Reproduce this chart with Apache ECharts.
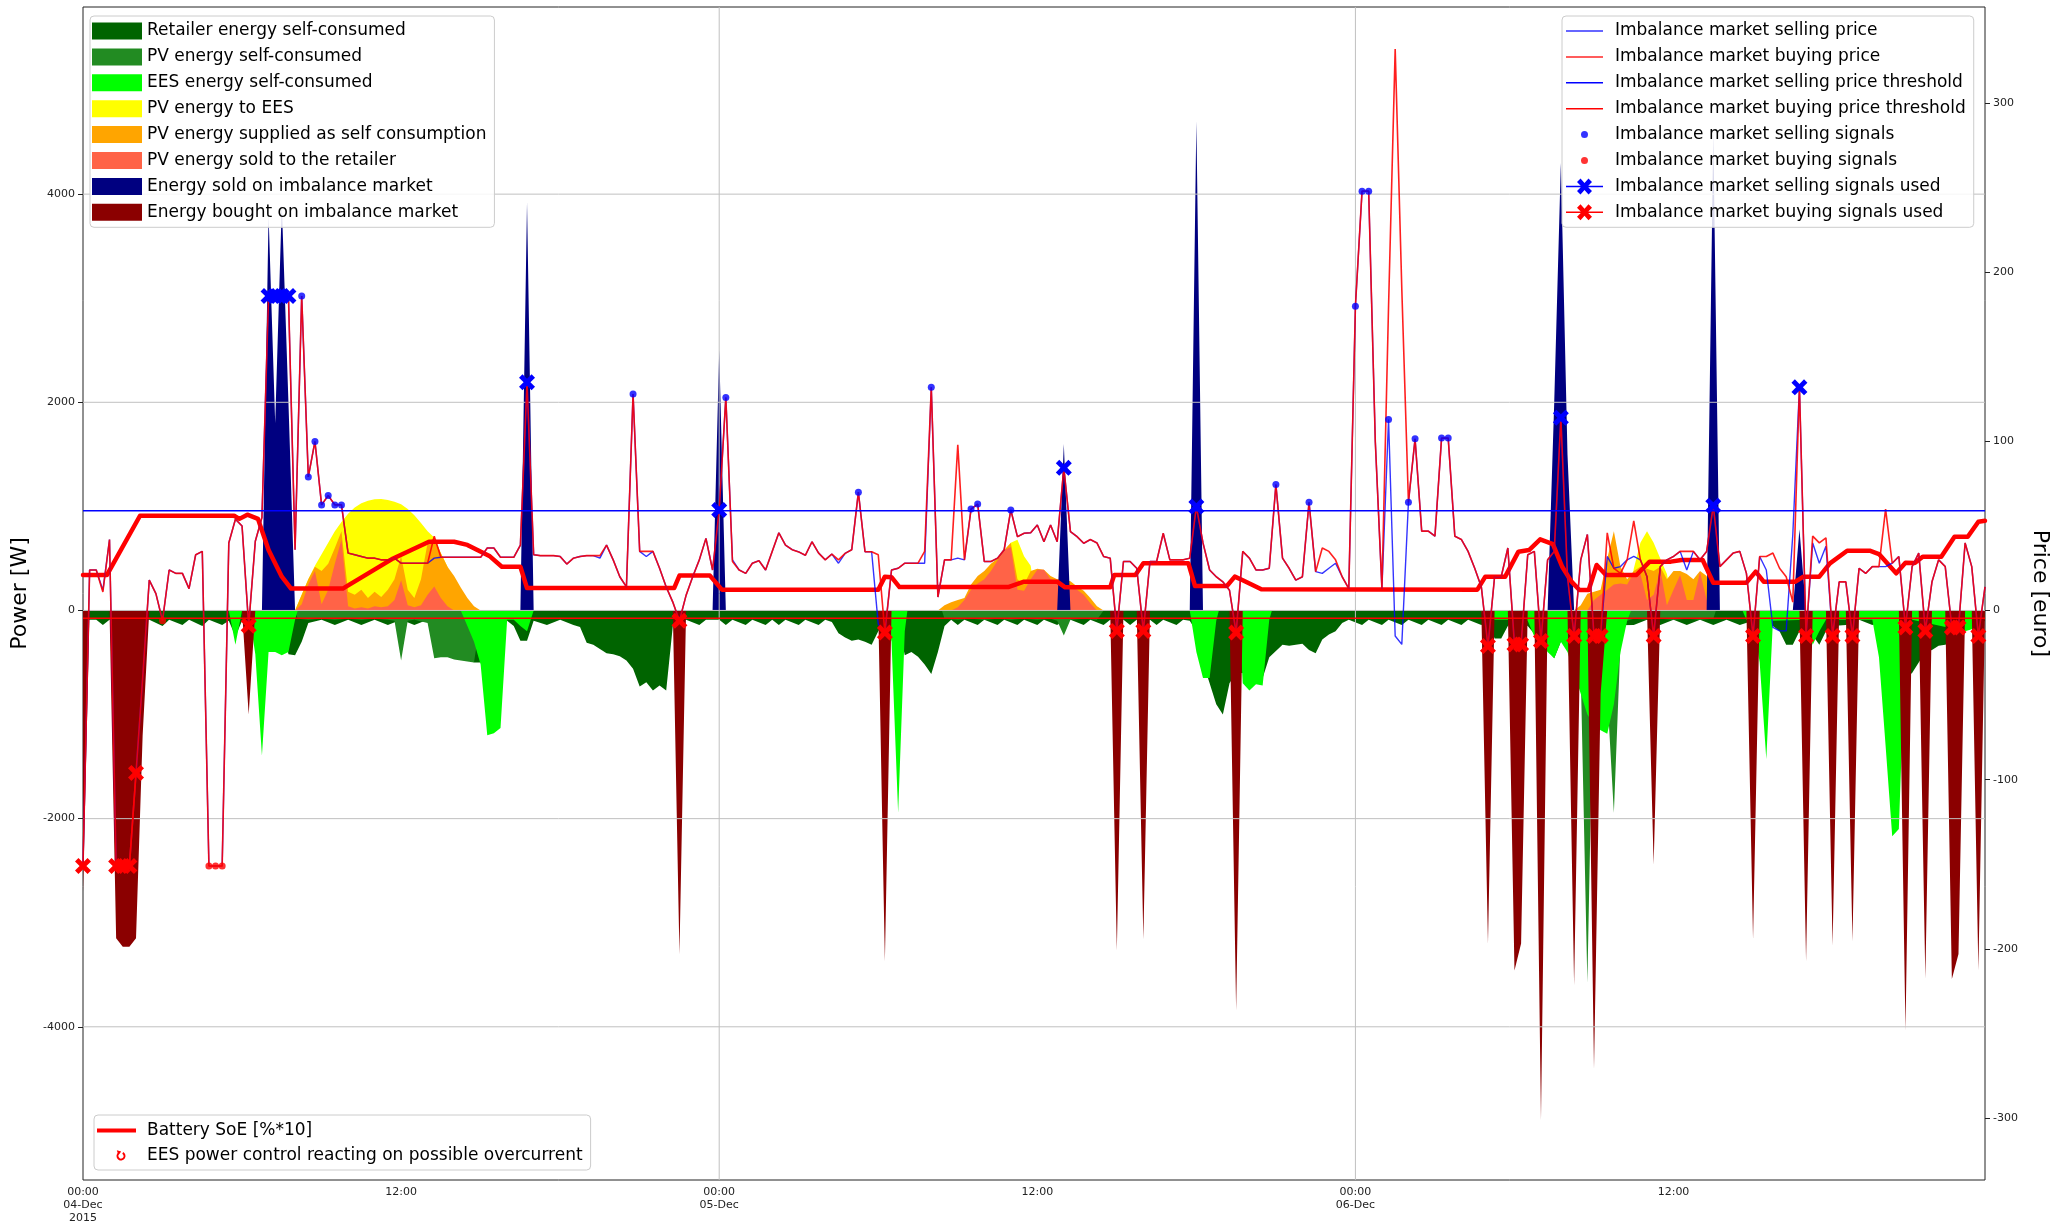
<!DOCTYPE html>
<html><head><meta charset="utf-8">
<script src="https://cdn.jsdelivr.net/npm/echarts@6/dist/echarts.min.js"></script>
<style>html,body{margin:0;padding:0;background:#fff}#c{width:2072px;height:1228px}</style>
</head><body><div id="c"></div>
<script>
// ---------------- DATA ----------------
const xTickHours = [0, 12, 24, 36, 48, 60];
const xTickLabels = ['00:00\n04-Dec\n2015', '12:00', '00:00\n05-Dec', '12:00', '00:00\n06-Dec', '12:00'];
const powerTicks = [-4000, -2000, 0, 2000, 4000];
const priceTicks = [-300, -200, -100, 0, 100, 200, 300];

// [hour, W]
const retailerSelf = [[0,-90],[0.5,-90],[0.75,-140],[1,-90],[2.5,-90],[3,-150],[3.25,-90],[3.75,-140],[4,-90],[4.5,-150],[4.75,-90],[5.25,-140],[5.5,-100],[5.75,-250],[6,-100],[6.5,-90],[7.5,-100],[7.75,-420],[8,-430],[8.25,-300],[8.5,-120],[9,-90],[9.5,-140],[10,-90],[10.5,-140],[11,-90],[11.5,-140],[12,-90],[12.5,-140],[13,-90],[13.5,-140],[14,-200],[14.5,-400],[14.75,-500],[15,-500],[15.25,-100],[16,-100],[16.25,-150],[16.5,-290],[16.75,-290],[17,-100],[17.5,-140],[18,-90],[18.5,-140],[18.75,-160],[19,-310],[19.25,-330],[19.5,-370],[19.75,-410],[20,-420],[20.25,-440],[20.5,-480],[20.75,-560],[21,-730],[21.25,-690],[21.5,-770],[21.75,-720],[22,-770],[22.25,-150],[22.5,-100],[22.75,-90],[23.25,-140],[23.5,-90],[24,-90],[24.25,-140],[24.5,-90],[25,-140],[25.25,-90],[25.75,-140],[26,-90],[26.25,-140],[26.5,-90],[27,-140],[27.25,-90],[27.75,-140],[28,-90],[28.25,-110],[28.5,-220],[28.75,-260],[29,-290],[29.25,-280],[29.5,-300],[29.75,-330],[30,-200],[30.25,-100],[30.75,-100],[31,-430],[31.25,-400],[31.5,-445],[31.75,-520],[32,-610],[32.25,-400],[32.5,-150],[32.75,-90],[33,-140],[33.25,-90],[33.75,-140],[34,-90],[34.5,-140],[34.75,-90],[35.25,-140],[35.5,-90],[36,-140],[36.25,-90],[36.75,-140],[37,-90],[37.25,-90],[37.75,-140],[38,-90],[38.5,-140],[38.75,-90],[39.25,-90],[39.5,-140],[39.75,-90],[40.25,-90],[40.5,-140],[40.75,-90],[41.25,-140],[41.5,-90],[41.75,-100],[42,-200],[42.25,-500],[42.5,-700],[42.75,-900],[43,-1000],[43.25,-700],[43.5,-600],[43.75,-600],[44,-600],[44.25,-600],[44.5,-650],[44.75,-450],[45,-390],[45.25,-330],[45.5,-340],[45.75,-330],[46,-320],[46.25,-380],[46.5,-410],[46.75,-280],[47,-230],[47.25,-200],[47.5,-120],[47.75,-90],[48.25,-140],[48.5,-90],[49,-140],[49.25,-90],[49.75,-140],[50,-90],[50.5,-140],[50.75,-90],[51.25,-140],[51.5,-90],[52,-140],[52.25,-90],[52.75,-140],[53,-100],[53.25,-270],[53.5,-270],[53.75,-150],[54,-100],[54.5,-150],[55,-300],[55.5,-460],[55.75,-300],[56,-150],[58.5,-140],[59,-90],[59.5,-140],[60,-90],[60.5,-140],[61,-90],[61.5,-140],[62,-90],[62.5,-140],[63,-100],[63.75,-150],[64,-200],[64.25,-330],[64.5,-330],[64.75,-200],[65,-150],[65.5,-330],[65.75,-200],[66,-150],[66.5,-140],[67,-90],[67.5,-140],[68,-100],[68.5,-400],[68.75,-650],[69,-600],[69.25,-500],[69.5,-400],[69.75,-380],[70,-340],[70.25,-330],[70.5,-300],[70.75,-250],[71,-150],[71.5,-140],[71.75,-100]];

const pvSelf = [[0,0],[8,0],[8.1,-80],[8.5,-90],[9,-80],[9.5,-90],[10,-80],[10.5,-90],[11,-80],[11.5,-90],[11.75,-100],[12,-480],[12.25,-100],[12.5,-90],[13,-120],[13.25,-460],[13.5,-450],[13.75,-450],[14,-470],[14.25,-480],[14.5,-490],[14.75,-500],[15,-80],[15.1,0],[32.4,0],[32.5,-80],[33,-90],[33.5,-80],[34,-90],[34.5,-80],[35,-90],[35.5,-80],[36,-90],[36.5,-80],[36.75,-100],[37,-240],[37.25,-90],[37.75,-80],[38.25,-90],[38.5,0],[54.4,0],[54.5,-80],[55,-90],[55.5,-80],[56,-90],[56.25,-200],[56.5,-600],[56.75,-3580],[57,-300],[57.25,-400],[57.5,-800],[57.75,-1945],[58,-300],[58.25,-100],[58.5,-80],[59,-90],[59.5,-80],[60,-90],[60.5,-80],[61,-90],[61.5,-80],[61.6,0],[71.75,0]];

const eesSelf = [[0,0],[5.5,0],[5.75,-330],[6,0],[6.25,0],[6.5,-420],[6.75,-1394],[7,-400],[7.25,-400],[7.5,-430],[7.75,-400],[8,-90],[8.1,0],[14.25,0],[14.5,-150],[14.75,-300],[15,-520],[15.25,-1200],[15.5,-1180],[15.75,-1130],[16,-90],[16.25,-90],[16.5,-150],[16.75,-200],[17,0],[30.25,0],[30.5,-300],[30.75,-1945],[31,-200],[31.1,0],[41.75,0],[42,-400],[42.25,-650],[42.5,-650],[42.75,-100],[42.85,0],[43.6,0],[43.75,-700],[44,-770],[44.25,-710],[44.5,-720],[44.75,-90],[44.85,0],[52.75,0],[52.85,-90],[54,-90],[54.5,-100],[54.75,-250],[55,-300],[55.25,-400],[55.5,-460],[55.75,-300],[56,-400],[56.25,-600],[56.5,-800],[56.75,-1000],[57,-1100],[57.25,-1150],[57.5,-1185],[57.75,-900],[58,-400],[58.25,-100],[58.4,0],[62.6,0],[62.75,-90],[63,-100],[63.25,-500],[63.5,-1430],[63.75,-100],[65,-90],[65.25,-330],[65.5,-200],[65.75,-90],[67.5,-90],[67.75,-450],[68,-1300],[68.25,-2170],[68.5,-2100],[68.75,-300],[69,-90],[71,-200],[71.25,-180],[71.5,-90],[71.75,-90]];

const pvToEes = [[0,0],[8,0],[8.25,150],[8.5,300],[8.75,430],[9,540],[9.25,650],[9.5,760],[9.75,850],[10,930],[10.25,990],[10.5,1030],[10.75,1055],[11,1068],[11.25,1070],[11.5,1062],[11.75,1045],[12,1020],[12.25,975],[12.5,915],[12.75,840],[13,760],[13.25,700],[13.5,550],[13.75,420],[14,0],[34.75,0],[35,650],[35.25,680],[35.5,520],[35.75,430],[36,0],[58.25,0],[58.5,400],[58.75,650],[59,760],[59.25,650],[59.5,500],[59.75,350],[60,0],[71.75,0]];

const pvSupplied = [[0,0],[8,0],[8.25,150],[8.5,300],[8.75,420],[9,380],[9.25,450],[9.5,600],[9.75,760],[10,180],[10.25,150],[10.5,200],[10.75,120],[11,180],[11.25,130],[11.5,200],[11.75,300],[12,520],[12.25,200],[12.5,120],[12.75,300],[13,650],[13.25,700],[13.5,550],[13.75,420],[14,330],[14.25,220],[14.5,120],[14.75,40],[15,0],[32.25,0],[32.5,50],[32.75,80],[33,100],[33.25,120],[33.5,250],[33.75,330],[34,380],[34.25,450],[34.5,500],[34.75,580],[35,650],[35.25,300],[35.5,250],[35.75,380],[36,400],[36.25,390],[36.5,330],[36.75,300],[37,300],[37.25,280],[37.5,230],[37.75,190],[38,120],[38.25,40],[38.5,0],[56.25,0],[56.5,50],[56.75,160],[57,180],[57.25,200],[57.5,500],[57.75,760],[58,420],[58.25,300],[58.5,380],[58.75,420],[59,400],[59.25,380],[59.5,420],[59.75,300],[60,380],[60.25,380],[60.5,350],[60.75,300],[61,380],[61.25,330],[61.5,0],[71.75,0]];

const pvSold = [[0,0],[8,0],[8.25,60],[8.5,250],[8.75,380],[9,60],[9.25,200],[9.5,450],[9.75,680],[10,40],[10.25,20],[10.5,30],[10.75,20],[11,40],[11.25,30],[11.5,40],[11.75,100],[12,290],[12.25,50],[12.5,30],[12.75,50],[13,150],[13.25,230],[13.5,120],[13.75,40],[14,0],[32.75,0],[33,30],[33.25,100],[33.5,200],[33.75,260],[34,300],[34.25,380],[34.5,480],[34.75,580],[35,610],[35.25,200],[35.5,190],[35.75,300],[36,390],[36.25,390],[36.5,300],[36.75,280],[37,260],[37.25,240],[37.5,200],[37.75,150],[38,70],[38.25,0],[56.75,0],[57,100],[57.25,150],[57.5,200],[57.75,250],[58,260],[58.25,250],[58.5,360],[58.75,350],[59,100],[59.25,150],[59.5,390],[59.75,50],[60,200],[60.25,340],[60.5,100],[60.75,100],[61,370],[61.25,100],[61.5,0],[71.75,0]];

const soldImbalance = [[0,0],[6.75,0],[7,3800],[7.25,1800],[7.5,3900],[7.75,2000],[8,0],[16.5,0],[16.75,3920],[17,0],[23.75,0],[24,2500],[24.25,0],[36.75,0],[37,1600],[37.25,0],[41.75,0],[42,4700],[42.25,0],[55.25,0],[55.5,2000],[55.75,4300],[56,1500],[56.25,0],[61.25,0],[61.5,4600],[61.75,0],[64.5,0],[64.75,780],[65,0],[71.75,0]];

const boughtImbalance = [[0,-2700],[0.25,0],[1,0],[1.25,-3150],[1.5,-3230],[1.75,-3230],[2,-3150],[2.25,-1200],[2.5,0],[6,0],[6.25,-1000],[6.5,0],[22.25,0],[22.5,-3300],[22.75,0],[30,0],[30.25,-3370],[30.5,0],[38.75,0],[39,-3270],[39.25,0],[39.75,0],[40,-3160],[40.25,0],[43.25,0],[43.5,-3840],[43.75,0],[52.75,0],[53,-3200],[53.25,0],[53.75,0],[54,-3460],[54.25,-3200],[54.5,0],[54.75,0],[55,-4900],[55.25,0],[56,0],[56.25,-3600],[56.5,0],[56.75,0],[57,-4400],[57.25,-800],[57.5,0],[59,0],[59.25,-2440],[59.5,0],[62.75,0],[63,-3160],[63.25,0],[64.75,0],[65,-3370],[65.25,0],[65.75,0],[66,-3220],[66.25,0],[66.5,0],[66.75,-3180],[67,0],[68.5,0],[68.75,-4030],[69,0],[69.25,0],[69.5,-3540],[69.75,0],[70.25,0],[70.5,-3540],[70.75,-3300],[71,0],[71.25,0],[71.5,-3460],[71.75,0]];

const batterySoE = [[0,340],[0.9,340],[2.15,910],[5.7,910],[5.9,880],[6.2,920],[6.6,880],[7,580],[7.5,325],[7.85,210],[9.8,210],[11.7,500],[13.05,660],[14,660],[14.5,630],[15.35,520],[15.8,420],[16.5,420],[16.75,215],[22.3,215],[22.5,335],[23.65,335],[24.1,200],[30,200],[30.25,325],[30.5,320],[30.8,225],[34.9,225],[35.5,277],[36.75,277],[37.05,222],[38.75,222],[38.9,341],[39.7,341],[40,453],[41.7,453],[41.95,235],[43.15,235],[43.45,325],[43.75,290],[44.45,203],[52.6,200],[52.9,325],[53.65,325],[54.15,565],[54.55,580],[54.97,683],[55.45,638],[55.8,420],[56.15,277],[56.45,197],[56.8,197],[57.1,437],[57.45,341],[58.6,341],[59.1,469],[59.9,469],[60.3,485],[61.1,485],[61.5,267],[62.75,267],[63.1,373],[63.4,277],[64.6,277],[64.9,325],[65.5,325],[65.9,453],[66.55,574],[67.4,574],[67.75,542],[68.4,357],[68.75,459],[69.1,455],[69.4,516],[70.1,516],[70.6,708],[71.1,708],[71.5,852],[71.75,862]];

// prices, quarter-hourly (euro)
const sellPrice = [
-151,24,24,12,42,-151,-151,-151,-96,-40,18,10,-6,24,22,22,13,33,35,-151,-151,-151,40,54,
50,-9,41,55,186,186,186,186,36,186,79,100,62.5,68,62.5,62.5,34,33,32,31,31,30,30,31,
28,28,28,28,28,31,31.5,31.5,31.5,31.5,31.5,31.5,31.5,37,37,31.5,31.5,31.5,38.7,135,33,32.5,32.5,32.5,
32,27.5,31,32,32.5,32.5,31,38.7,30,20,14,128,35,32,35,25,14,5,-6,9,20,30,42.7,24,
59.5,126,30,24,22,28,29.5,24,35,46,38.7,36,34.7,32.7,40.7,34,30,33.4,28,33.8,36,70,34.8,34.8,
-8,-13,24,25,28,28,28,28,132,8,30,30,31,30,60,63,29,29,31,36,59.5,43.7,45.7,46,
50.6,40.7,50.6,40.7,84.4,46.7,43.7,39.8,42,40,32,31,-12,29,29,25,-12,29,29,45.7,30,30,30,31,
61.5,40,24,20,17,12,-13,35,31,24,24,25,74.5,31,25,18,20,64,23,22,25,28,20,13,
180,248,248,100,13,113,-15,-20,64,101.6,47,47,44,102,102,44,42,35,25,14,-21,20,20,37,
-20,-20,33,35,-18,30,35,114,20,-15,30,45,-15,-15,32,25,26,30,32,30,20,-15,26,30,
32,35,24,35,30,35,62,26,30,34,35,22,-15,32,24,-10,-12,-12,45,132,-15,40,28,38,
-15,17,17,-15,25,22,26,26,26,28,32,-10,26,34,-12,17,30,26,-10,-10,40,26,-15,14];
const buyPrice = [
-151,24,24,11,42,-151,-151,-151,-96,-40,18,10,-6,24,22,22,13,33,35,-151,-151,-151,40,54,
50,-9,41,55,186,186,186,186,36,186,79,100,62.5,68,62.5,62.5,34,33,32,31,31,30,30,31,
28,28,28,28,28,44,31.5,31.5,31.5,31.5,31.5,31.5,31.5,37,37,31.5,31.5,31.5,38.7,135,33,32.5,32.5,32.5,
32,27.5,31,32,32.5,32.5,32.5,38.7,30,20,14,128,35,35,35,25,14,5,-6,9,20,30,42.7,24,
59.5,126,29,24,22,28,29.5,24,35,46,38.7,36,34.7,32.7,40.7,34,30,33.4,30,33.8,36,70,34.8,34.8,
33,-13,24,25,28,28,28,35,132,8,30,30,98,30,60,63,29,29,31,36,59.5,43.7,45.7,46,
50.6,40.7,50.6,40.7,84.4,46.7,43.7,39.8,42,40,32,31,-12,29,29,25,-12,29,29,45.7,30,30,30,31,
61.5,40,24,20,17,12,-13,35,31,24,24,25,74.5,31,25,18,20,64,23,37,35,30,20,13,
180,248,248,100,13,180,332,190,64,101.6,47,47,44,102,102,44,42,35,25,14,-21,20,20,37,
-20,-20,33,35,-18,30,35,114,20,-15,30,45,-15,-15,46,25,22,30,53,30,20,-15,26,30,
32,35,35,35,30,35,62,26,30,34,35,22,-15,32,32,34,25,20,5,132,-15,44,40,43,
-15,17,17,-15,25,22,26,26,60,28,32,-10,26,34,-12,17,30,26,-10,-10,40,26,-15,14];
const priceHours = sellPrice.map((_, i) => i * 0.25);

const sellThreshold = 59;
const buyThreshold = -4.5;

const sellSignals = [[8.25,186],[8.5,79],[8.75,100],[9,62.5],[9.25,68],[9.5,62.5],[9.75,62.5],[20.75,128],[24.25,126],[29.25,70],[32,132],[33.5,60],[33.75,63],[35,59.5],[45,74.5],[46.25,64],[48,180],[48.25,248],[48.5,248],[49.25,113],[50,64],[50.25,101.6],[51.25,102],[51.5,102]];
const buySignals = [[3,-6],[4.75,-151],[5,-151],[5.25,-151]];
const sellSignalsUsed = [[7,186],[7.25,186],[7.5,186],[7.75,186],[16.75,135],[24,59.5],[37,84.4],[42,61.5],[55.75,114],[61.5,62],[64.75,132]];
const buySignalsUsed = [[0,-151],[1.25,-151],[1.5,-151],[1.75,-151],[2,-96],[6.25,-9],[22.5,-6],[30.25,-13],[39,-12],[40,-12],[43.5,-13],[53,-21],[54,-20],[54.25,-20],[55,-18],[56.25,-15],[57,-15],[57.25,-15],[59.25,-15],[63,-15],[65,-15],[66,-15],[66.75,-15],[68.75,-10],[69.5,-12],[70.5,-10],[70.75,-10],[71.5,-15]];

// ---------------- CHART ----------------
const FONT = 'DejaVu Sans';
const X_MAX = 71.75;
const W_MIN = -5472, W_MAX = 5798;
const P_MIN = -336.7, P_MAX = 356.9;

function withBreaks(pts) {
  const out = [];
  pts.forEach((p, i) => {
    if (i > 0 && p[0] - pts[i - 1][0] > 0.3) out.push([(p[0] + pts[i - 1][0]) / 2, '-']);
    out.push(p);
  });
  return out;
}
function area(name, color, data) {
  return { name, type: 'line', data, yAxisIndex: 0, symbol: 'none', smooth: false, z: 1,
    color, lineStyle: { width: 0, color }, areaStyle: { color, opacity: 1 }, silent: true };
}
const gridData = [];
powerTicks.forEach(w => { gridData.push([0, w], [X_MAX, w], [X_MAX, '-']); });
[24, 48].forEach(h => { gridData.push([h, W_MIN], [h, W_MAX], [h, '-']); });

const XSYM = 'path://M0,-3L4,-7L7,-4L3,0L7,4L4,7L0,3L-4,7L-7,4L-3,0L-7,-4L-4,-7Z';
const C1 = 'M0,0h0.01v0.01h-0.01z';
const LINE_ICON = 'path://' + C1 + 'M44,17h-0.01v-0.01h0.01zM0,7.75h37v1.5h-37z';
const DOT_ICON = 'path://' + C1 + 'M44,17h-0.01v-0.01h0.01zM15,8.5a3.5,3.5 0 1,0 7,0a3.5,3.5 0 1,0 -7,0z';
const XLINE_ICON = 'path://' + C1 + 'M44,17h-0.01v-0.01h0.01zM0,7.75h37v1.5h-37zM18.5,5L22.5,0.5L26,4L21.5,8.5L26,13L22.5,16.5L18.5,12L14.5,16.5L11,13L15.5,8.5L11,4L14.5,0.5Z';
const SOE_ICON = 'path://' + C1 + 'M45,17h-0.01v-0.01h0.01zM0,6.5h39v4h-39z';
const CURL_ICON = 'path://' + C1 + 'M45,17h-0.01v-0.01h0.01zM26.25,5.1A4.5,4.5 0 1,1 21.75,5.1L22.75,6.84A2.5,2.5 0 1,0 25.25,6.84ZM19.8,3.2L24.2,4.6L21.4,8.2Z';

const legendBase = {
  orient: 'vertical', selectedMode: false, backgroundColor: 'rgba(255,255,255,0.85)',
  borderColor: '#cccccc', borderWidth: 1, borderRadius: 4,
  itemStyle: { borderWidth: 0 },
  textStyle: { fontFamily: FONT, fontSize: 17, color: '#000', lineHeight: 17 }
};
const areaNames = ['Retailer energy self-consumed', 'PV energy self-consumed', 'EES energy self-consumed',
  'PV energy to EES', 'PV energy supplied as self consumption', 'PV energy sold to the retailer',
  'Energy sold on imbalance market', 'Energy bought on imbalance market'];

const option = {
  animation: false,
  backgroundColor: '#ffffff',
  grid: { left: 83, right: 87, top: 7, bottom: 48, show: true, borderColor: '#222', borderWidth: 1, containLabel: false, outerBoundsMode: 'none' },
  legend: [
    Object.assign({}, legendBase, { left: 90, top: 16, padding: [6.5, 8, 6.5, 2], itemWidth: 50, itemHeight: 17, itemGap: 8.9,
      data: areaNames.map(n => ({ name: n, icon: 'rect' })) }),
    Object.assign({}, legendBase, { left: 1562, top: 16, padding: [6.5, 8, 6.5, 4], itemWidth: 44, itemHeight: 17, itemGap: 8.9,
      data: [
        { name: 'Imbalance market selling price', icon: LINE_ICON },
        { name: 'Imbalance market buying price', icon: LINE_ICON },
        { name: 'Imbalance market selling price threshold', icon: LINE_ICON },
        { name: 'Imbalance market buying price threshold', icon: LINE_ICON },
        { name: 'Imbalance market selling signals', icon: DOT_ICON },
        { name: 'Imbalance market buying signals', icon: DOT_ICON },
        { name: 'Imbalance market selling signals used', icon: XLINE_ICON },
        { name: 'Imbalance market buying signals used', icon: XLINE_ICON }
      ] }),
    Object.assign({}, legendBase, { left: 94, top: 1115, padding: [7, 8, 6, 3], itemWidth: 45, itemHeight: 17, itemGap: 8,
      data: [
        { name: 'Battery SoE [%*10]', icon: SOE_ICON },
        { name: 'EES power control reacting on possible overcurrent', icon: CURL_ICON }
      ] })
  ],
  xAxis: {
    type: 'value', min: 0, max: X_MAX,
    axisLine: { show: false }, splitLine: { show: false },
    axisTick: { show: true, customValues: xTickHours, length: 5, lineStyle: { color: '#222' } },
    axisLabel: { customValues: xTickHours, formatter: v => xTickLabels[xTickHours.indexOf(v)] || '',
      fontFamily: FONT, fontSize: 11, color: '#222', lineHeight: 13, margin: 6 }
  },
  yAxis: [
    { type: 'value', min: W_MIN, max: W_MAX,
      axisLine: { show: false }, splitLine: { show: false },
      axisTick: { show: true, customValues: powerTicks, length: 5, lineStyle: { color: '#222' } },
      axisLabel: { customValues: powerTicks, formatter: v => String(v), fontFamily: FONT, fontSize: 11, color: '#222', margin: 8 },
      name: 'Power [W]', nameLocation: 'middle', nameGap: 52,
      nameTextStyle: { fontFamily: FONT, fontSize: 22, color: '#000' } },
    { type: 'value', position: 'right', min: P_MIN, max: P_MAX,
      axisLine: { show: false }, splitLine: { show: false },
      axisTick: { show: true, customValues: priceTicks, length: 5, lineStyle: { color: '#222' } },
      axisLabel: { customValues: priceTicks, formatter: v => String(v), fontFamily: FONT, fontSize: 11, color: '#222', margin: 8 },
      name: 'Price [euro]', nameLocation: 'middle', nameGap: 43, nameRotate: -90,
      nameTextStyle: { fontFamily: FONT, fontSize: 22, color: '#000' } }
  ],
  series: [
    area(areaNames[0], '#006400', retailerSelf),
    area(areaNames[1], '#228B22', pvSelf),
    area(areaNames[2], '#00FF00', eesSelf),
    area(areaNames[3], '#FFFF00', pvToEes),
    area(areaNames[4], '#FFA500', pvSupplied),
    area(areaNames[5], '#FF6347', pvSold),
    area(areaNames[6], '#000080', soldImbalance),
    area(areaNames[7], '#8B0000', boughtImbalance),
    { type: 'line', data: gridData, yAxisIndex: 0, symbol: 'none', silent: true, z: 1,
      lineStyle: { color: '#c0c0c0', width: 1 }, color: '#c0c0c0' },
    { name: 'Battery SoE [%*10]', type: 'line', data: batterySoE, yAxisIndex: 0, symbol: 'none', z: 3,
      color: '#FF0000', lineStyle: { color: '#FF0000', width: 4.5, join: 'round', cap: 'round' } },
    { name: 'EES power control reacting on possible overcurrent', type: 'line', data: [], yAxisIndex: 0, symbol: 'none', color: '#FF0000' },
    { name: 'Imbalance market selling price', type: 'line', yAxisIndex: 1, symbol: 'none', z: 4,
      data: priceHours.map((h, i) => [h, sellPrice[i]]), color: 'rgba(0,0,255,0.8)', lineStyle: { width: 1.4, color: 'rgba(0,0,255,0.8)' } },
    { name: 'Imbalance market buying price', type: 'line', yAxisIndex: 1, symbol: 'none', z: 4,
      data: priceHours.map((h, i) => [h, buyPrice[i]]), color: 'rgba(255,0,0,0.85)', lineStyle: { width: 1.6, color: 'rgba(255,0,0,0.88)' } },
    { name: 'Imbalance market selling price threshold', type: 'line', yAxisIndex: 1, symbol: 'none', z: 4,
      data: [[0, sellThreshold], [X_MAX, sellThreshold]], color: '#0000FF', lineStyle: { width: 1.6, color: '#0000FF' } },
    { name: 'Imbalance market buying price threshold', type: 'line', yAxisIndex: 1, symbol: 'none', z: 4,
      data: [[0, buyThreshold], [X_MAX, buyThreshold]], color: '#FF0000', lineStyle: { width: 1.6, color: '#FF0000' } },
    { name: 'Imbalance market selling signals', type: 'scatter', yAxisIndex: 1, z: 5, data: sellSignals,
      symbol: 'circle', symbolSize: 7, color: '#0000FF', itemStyle: { color: '#0000FF' } },
    { name: 'Imbalance market buying signals', type: 'scatter', yAxisIndex: 1, z: 5, data: buySignals,
      symbol: 'circle', symbolSize: 7, color: '#FF0000', itemStyle: { color: '#FF0000' } },
    { name: 'Imbalance market selling signals used', type: 'line', yAxisIndex: 1, z: 6, data: withBreaks(sellSignalsUsed),
      symbol: XSYM, symbolSize: 16, showSymbol: true, color: '#0000FF', itemStyle: { color: '#0000FF', borderWidth: 0 },
      lineStyle: { width: 1.6, color: '#0000FF' } },
    { name: 'Imbalance market buying signals used', type: 'line', yAxisIndex: 1, z: 6, data: withBreaks(buySignalsUsed),
      symbol: XSYM, symbolSize: 16, showSymbol: true, color: '#FF0000', itemStyle: { color: '#FF0000', borderWidth: 0 },
      lineStyle: { width: 1.6, color: '#FF0000' } }
  ]
};
const chart = echarts.init(document.getElementById('c'), null, { renderer: 'canvas' });
chart.setOption(option);
</script></body></html>
